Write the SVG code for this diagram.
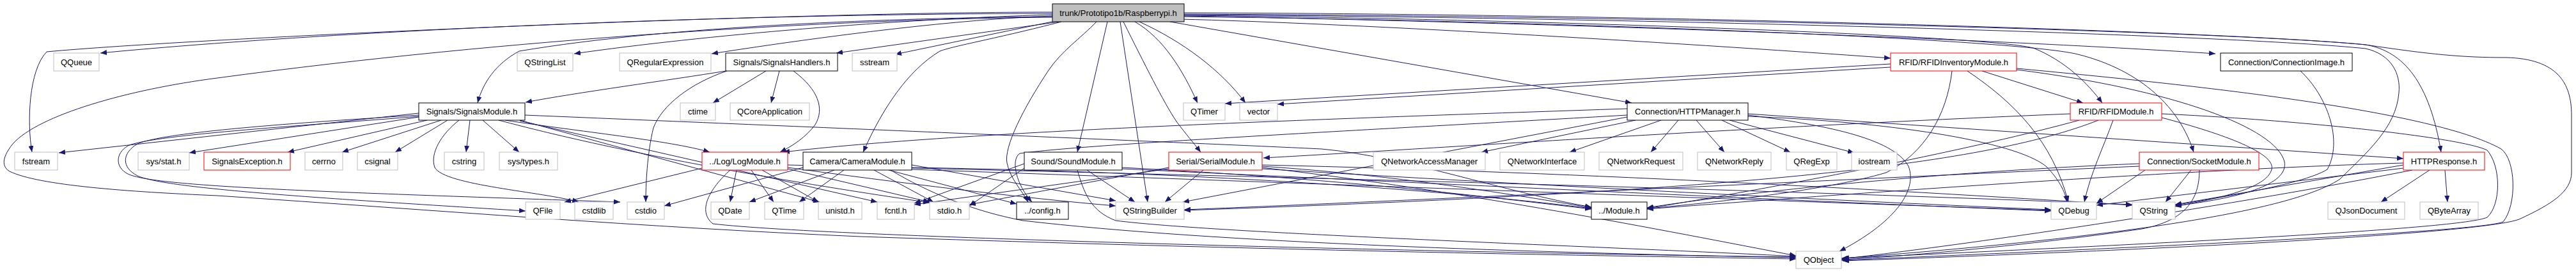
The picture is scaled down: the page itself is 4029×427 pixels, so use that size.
<svg xmlns="http://www.w3.org/2000/svg" width="4029" height="427" viewBox="0 0 4029 427">
<style>
rect{fill:#fff;stroke-width:1}
.g rect{stroke:#bfbfbf}
.b rect{stroke:#000}
.r rect{stroke:#ff0000}
.root rect{fill:#bfbfbf;stroke:#000}
text{font-family:"Liberation Sans",Arial,sans-serif;font-size:13px;text-anchor:middle;fill:#000}
#edges path{fill:none;stroke:#191970;stroke-width:1;marker-end:url(#a)}
</style>
<defs>
<marker id="a" markerWidth="10" markerHeight="8" refX="10" refY="4" orient="auto" markerUnits="userSpaceOnUse"><path d="M0,0 L10,4 L0,8 z" fill="#191970"/></marker>
</defs>
<rect x="0" y="0" width="4029" height="427" style="fill:#fff;stroke:none"/>
<g id="edges">
<!-- root -->
<path d="M1646,21 C1100,22 500,50 157,83"/>
<path d="M1646,19 C1200,19 300,60 73,81 C45,110 42,190 50,238"/>
<path d="M1646,23 C1400,30 1100,55 898,84"/>
<path d="M1646,25 C1500,30 1300,55 1113,84"/>
<path d="M1657,34 L1308,83"/>
<path d="M1650,33 L1400,85"/>
<path d="M1646,26 C1400,28 1050,40 812,80 C775,100 755,130 747,161"/>
<path d="M1660,34 C1560,60 1490,72 1470,80 C1420,110 1380,170 1350,238"/>
<path d="M1732,34 L1685,238"/>
<path d="M1715,34 C1690,60 1660,80 1640,110 C1600,170 1570,230 1575,255 C1580,280 1600,300 1608,316"/>
<path d="M1752,34 L1795,316"/>
<path d="M1757,34 C1790,100 1820,160 1840,190 C1855,210 1868,225 1878,238"/>
<path d="M1775,34 C1820,60 1850,110 1873,161"/>
<path d="M1782,34 C1850,65 1910,110 1948,161"/>
<path d="M1830,34 L2552,161"/>
<path d="M1845,30 C2100,36 2600,65 2957,91"/>
<path d="M1852,24 C2400,30 3100,55 3180,75 C3230,95 3265,130 3288,161"/>
<path d="M1852,26 C2400,32 3150,60 3250,85 C3350,110 3410,170 3431,238"/>
<path d="M1852,25 C2400,35 3100,60 3465,84"/>
<path d="M1852,22 C2600,25 3500,50 3700,70 C3760,80 3800,130 3818,238"/>
<path d="M1852,20 C2600,22 3500,50 3700,70 C3800,85 3850,90 3920,90 C4000,92 4022,130 4022,180 L4022,270 C4022,300 3990,320 3940,343 C3880,365 3400,390 2882,408"/>
<path d="M1852,23 C2600,28 3500,55 3700,76 C3740,85 3755,115 3752,145 C3748,200 3700,240 3660,280 C3600,320 3400,365 2882,404"/>
<path d="M1646,27 C1300,30 800,60 340,122 C200,140 60,180 20,225 C0,250 5,262 15,268 C60,290 200,300 340,306 C700,330 1000,355 1345,370 C2000,392 2500,400 2809,405"/>
<!-- SignalsHandlers -->
<path d="M1135,111 C1050,125 900,145 822,160"/>
<path d="M1198,111 L1115,161"/>
<path d="M1219,111 L1206,161"/>
<path d="M1241,111 C1280,140 1290,170 1275,195 C1260,215 1240,228 1220,238"/>
<path d="M1137,111 C1080,130 1035,165 1022,200 C1012,240 1010,290 1010,316"/>
<!-- SignalsModule -->
<path d="M655,177 L92,239"/>
<path d="M655,183 L296,239"/>
<path d="M668,188 L450,238"/>
<path d="M690,188 L535,238"/>
<path d="M700,188 L618,238"/>
<path d="M735,188 L729,238"/>
<path d="M755,188 L812,238"/>
<path d="M655,180 C500,190 260,205 215,225 C190,240 190,262 215,275 C260,295 500,310 822,330"/>
<path d="M655,182 C500,195 240,210 200,228 C180,240 180,262 200,272 C240,292 500,300 970,316"/>
<path d="M718,188 C690,210 672,240 680,262 C695,290 850,300 905,316"/>
<path d="M790,188 C900,205 1050,220 1110,238"/>
<path d="M821,180 C1300,200 1900,225 2067,233 C2200,245 2350,300 2489,324"/>
<path d="M813,188 L1282,316"/>
<path d="M813,189 L1372,316"/>
<path d="M780,188 C900,220 1100,265 1454,317"/>
<!-- LogModule -->
<path d="M1152,266 L1142,316"/>
<path d="M1175,266 L1210,316"/>
<path d="M1192,266 L1280,316"/>
<path d="M1098,263 L883,316"/>
<path d="M1142,266 C1110,295 1090,330 1115,350 C1300,372 2300,396 2809,402"/>
<path d="M1232,262 C1400,285 1600,310 1745,322"/>
<path d="M1232,264 L1454,316"/>
<path d="M1232,258 C1700,270 2600,290 3335,320"/>
<!-- CameraModule -->
<path d="M1305,266 L1172,316"/>
<path d="M1320,266 L1250,316"/>
<path d="M1367,266 L1460,316"/>
<path d="M1390,266 L1590,319"/>
<path d="M1393,266 C1450,300 1520,330 1600,345 C1900,380 2400,395 2809,403"/>
<path d="M1426,258 L1745,314"/>
<path d="M1426,262 C1800,268 2200,290 2489,326"/>
<path d="M1256,262 L1039,322"/>
<path d="M1426,265 C2000,285 2800,315 3208,329"/>
<!-- SoundModule -->
<path d="M1602,263 L1516,322"/>
<path d="M1602,256 L1430,318"/>
<path d="M1685,266 C1695,300 1705,330 1745,345 C1900,365 2500,385 2809,401"/>
<path d="M1700,266 L1775,316"/>
<path d="M1755,262 C2100,280 2300,305 2489,327"/>
<path d="M1755,264 C2300,290 2900,318 3208,330"/>
<!-- SerialModule -->
<path d="M1882,266 L1822,316"/>
<path d="M1974,260 C2200,275 2400,310 2489,325"/>
<path d="M1974,262 C2300,300 2600,360 2809,400"/>
<path d="M1828,262 L1516,320"/>
<path d="M1828,264 L1430,320"/>
<path d="M1974,264 C2400,290 2900,315 3208,328"/>
<path d="M1974,258 C2500,270 3000,300 3335,321"/>
<!-- HTTPManager -->
<path d="M2558,188 L2317,238"/>
<path d="M2598,188 L2455,238"/>
<path d="M2625,188 L2582,238"/>
<path d="M2653,188 L2697,238"/>
<path d="M2693,188 L2800,238"/>
<path d="M2705,188 L2900,239"/>
<path d="M2734,180 C2850,195 2960,215 2985,260 C3000,300 2960,350 2877,393"/>
<path d="M2734,178 L3759,248"/>
<path d="M2545,170 C2100,185 1500,205 1225,238"/>
<path d="M2545,180 C2200,200 1700,225 1595,240 C1580,250 1590,290 1614,316"/>
<path d="M2545,183 L1850,316"/>
<path d="M2734,182 C2950,190 3150,220 3200,260 C3220,280 3230,300 3233,316"/>
<!-- RFIDInventory -->
<path d="M2957,100 L1916,162"/>
<path d="M2957,105 L1998,163"/>
<path d="M3100,111 L3258,161"/>
<path d="M3077,111 C3150,160 3210,220 3235,316"/>
<path d="M3053,111 C3045,180 3010,240 2950,270 C2850,300 2650,320 2576,326"/>
<path d="M3154,107 C3400,130 3800,170 3912,233 C3935,250 3937,320 3915,347 C3880,362 3400,385 2880,407"/>
<path d="M3154,109 C3400,140 3560,200 3573,253 C3580,290 3500,310 3402,322"/>
<!-- RFIDModule -->
<path d="M3305,188 C3290,230 3270,270 3260,316"/>
<path d="M3381,184 C3480,210 3560,240 3553,265 C3545,295 3470,310 3402,323"/>
<path d="M3381,178 C3600,188 3850,215 3890,235 C3912,260 3912,320 3890,340 C3850,358 3400,380 2880,404"/>
<path d="M3238,178 C2700,200 2200,235 1976,247"/>
<path d="M3252,188 C3100,230 2800,290 2576,326"/>
<path d="M3282,188 C3100,260 2700,300 1852,329"/>
<!-- SocketModule -->
<path d="M3427,266 L3387,316"/>
<path d="M3440,266 C3440,310 3420,345 3350,358 C3200,380 3000,400 2880,406"/>
<path d="M3346,260 C3000,275 2300,310 1852,328"/>
<path d="M3346,256 C3000,270 2700,305 2576,325"/>
<path d="M3355,266 L3279,318"/>
<!-- HTTPResponse -->
<path d="M3800,266 L3724,316"/>
<path d="M3824,266 L3828,316"/>
<path d="M3759,263 L3279,321"/>
<path d="M3759,258 L3402,320"/>
<path d="M3759,255 C3400,265 2800,310 2576,327"/>
<path d="M3773,266 C3500,320 3100,380 2880,405"/>
<!-- ConnectionImage -->
<path d="M3598,111 C3640,150 3665,220 3640,265 C3600,290 3450,312 3402,321"/>
</g>
<g id="n_root" class="root"><rect x="1646" y="6" width="206" height="28"/><text x="1749" y="25">trunk/Prototipo1b/Raspberrypi.h</text></g>
<g id="n_QQueue" class="g"><rect x="84" y="83" width="71" height="28"/><text x="119.5" y="102">QQueue</text></g>
<g id="n_QStringList" class="g"><rect x="809" y="83" width="87" height="28"/><text x="852.5" y="102">QStringList</text></g>
<g id="n_QRegularExpression" class="g"><rect x="969" y="83" width="143" height="28"/><text x="1040.5" y="102">QRegularExpression</text></g>
<g id="n_SignalsHandlers" class="b"><rect x="1135" y="83" width="175" height="28"/><text x="1222.5" y="102">Signals/SignalsHandlers.h</text></g>
<g id="n_sstream" class="g"><rect x="1333" y="83" width="70" height="28"/><text x="1368" y="102">sstream</text></g>
<g id="n_RFIDInventoryModule" class="r"><rect x="2957" y="83" width="197" height="28"/><text x="3055.5" y="102">RFID/RFIDInventoryModule.h</text></g>
<g id="n_ConnectionImage" class="b"><rect x="3473" y="83" width="206" height="28"/><text x="3576" y="102">Connection/ConnectionImage.h</text></g>
<g id="n_SignalsModule" class="b"><rect x="655" y="161" width="166" height="27"/><text x="738" y="179">Signals/SignalsModule.h</text></g>
<g id="n_ctime" class="g"><rect x="1064" y="161" width="55" height="27"/><text x="1091.5" y="179">ctime</text></g>
<g id="n_QCoreApplication" class="g"><rect x="1142" y="161" width="124" height="27"/><text x="1204" y="179">QCoreApplication</text></g>
<g id="n_QTimer" class="g"><rect x="1851" y="161" width="65" height="27"/><text x="1883.5" y="179">QTimer</text></g>
<g id="n_vector" class="g"><rect x="1939" y="161" width="59" height="27"/><text x="1968.5" y="179">vector</text></g>
<g id="n_HTTPManager" class="b"><rect x="2545" y="161" width="189" height="27"/><text x="2639.5" y="179">Connection/HTTPManager.h</text></g>
<g id="n_RFIDModule" class="r"><rect x="3238" y="161" width="143" height="27"/><text x="3309.5" y="179">RFID/RFIDModule.h</text></g>
<g id="n_fstream" class="g"><rect x="23" y="238" width="67" height="28"/><text x="56.5" y="257">fstream</text></g>
<g id="n_sys_stat" class="g"><rect x="216" y="238" width="80" height="28"/><text x="256" y="257">sys/stat.h</text></g>
<g id="n_SignalsException" class="r"><rect x="319" y="238" width="135" height="28"/><text x="386.5" y="257">SignalsException.h</text></g>
<g id="n_cerrno" class="g"><rect x="477" y="238" width="59" height="28"/><text x="506.5" y="257">cerrno</text></g>
<g id="n_csignal" class="g"><rect x="559" y="238" width="63" height="28"/><text x="590.5" y="257">csignal</text></g>
<g id="n_cstring" class="g"><rect x="695" y="238" width="62" height="28"/><text x="726" y="257">cstring</text></g>
<g id="n_sys_types" class="g"><rect x="781" y="238" width="91" height="28"/><text x="826.5" y="257">sys/types.h</text></g>
<g id="n_LogModule" class="r"><rect x="1098" y="238" width="134" height="28"/><text x="1165" y="257">../Log/LogModule.h</text></g>
<g id="n_CameraModule" class="b"><rect x="1256" y="238" width="170" height="28"/><text x="1341" y="257">Camera/CameraModule.h</text></g>
<g id="n_SoundModule" class="b"><rect x="1602" y="238" width="153" height="28"/><text x="1678.5" y="257">Sound/SoundModule.h</text></g>
<g id="n_SerialModule" class="r"><rect x="1828" y="238" width="146" height="28"/><text x="1901" y="257">Serial/SerialModule.h</text></g>
<g id="n_QNetworkAccessManager" class="g"><rect x="2148" y="238" width="175" height="28"/><text x="2235.5" y="257">QNetworkAccessManager</text></g>
<g id="n_QNetworkInterface" class="g"><rect x="2346" y="238" width="132" height="28"/><text x="2412" y="257">QNetworkInterface</text></g>
<g id="n_QNetworkRequest" class="g"><rect x="2501" y="238" width="131" height="28"/><text x="2566.5" y="257">QNetworkRequest</text></g>
<g id="n_QNetworkReply" class="g"><rect x="2655" y="238" width="115" height="28"/><text x="2712.5" y="257">QNetworkReply</text></g>
<g id="n_QRegExp" class="g"><rect x="2794" y="238" width="79" height="28"/><text x="2833.5" y="257">QRegExp</text></g>
<g id="n_iostream" class="g"><rect x="2896" y="238" width="71" height="28"/><text x="2931.5" y="257">iostream</text></g>
<g id="n_SocketModule" class="r"><rect x="3346" y="238" width="187" height="28"/><text x="3439.5" y="257">Connection/SocketModule.h</text></g>
<g id="n_HTTPResponse" class="r"><rect x="3759" y="238" width="127" height="28"/><text x="3822.5" y="257">HTTPResponse.h</text></g>
<g id="n_QFile" class="g"><rect x="822" y="316" width="54" height="27"/><text x="849" y="334">QFile</text></g>
<g id="n_cstdlib" class="g"><rect x="899" y="316" width="60" height="27"/><text x="929" y="334">cstdlib</text></g>
<g id="n_cstdio" class="g"><rect x="981" y="316" width="58" height="27"/><text x="1010" y="334">cstdio</text></g>
<g id="n_QDate" class="g"><rect x="1112" y="316" width="60" height="27"/><text x="1142" y="334">QDate</text></g>
<g id="n_QTime" class="g"><rect x="1196" y="316" width="61" height="27"/><text x="1226.5" y="334">QTime</text></g>
<g id="n_unistd" class="g"><rect x="1280" y="316" width="68" height="27"/><text x="1314" y="334">unistd.h</text></g>
<g id="n_fcntl" class="g"><rect x="1372" y="316" width="58" height="27"/><text x="1401" y="334">fcntl.h</text></g>
<g id="n_stdio" class="g"><rect x="1454" y="316" width="62" height="27"/><text x="1485" y="334">stdio.h</text></g>
<g id="n_config" class="b"><rect x="1590" y="316" width="81" height="27"/><text x="1630.5" y="334">../config.h</text></g>
<g id="n_QStringBuilder" class="g"><rect x="1745" y="316" width="107" height="27"/><text x="1798.5" y="334">QStringBuilder</text></g>
<g id="n_Module" class="b"><rect x="2489" y="316" width="87" height="27"/><text x="2532.5" y="334">../Module.h</text></g>
<g id="n_QDebug" class="g"><rect x="3208" y="316" width="71" height="27"/><text x="3243.5" y="334">QDebug</text></g>
<g id="n_QString" class="g"><rect x="3335" y="316" width="67" height="27"/><text x="3368.5" y="334">QString</text></g>
<g id="n_QJsonDocument" class="g"><rect x="3641" y="316" width="120" height="27"/><text x="3701" y="334">QJsonDocument</text></g>
<g id="n_QByteArray" class="g"><rect x="3785" y="316" width="91" height="27"/><text x="3830.5" y="334">QByteArray</text></g>
<g id="n_QObject" class="g"><rect x="2809" y="393" width="71" height="27"/><text x="2844.5" y="411">QObject</text></g>
</svg>
